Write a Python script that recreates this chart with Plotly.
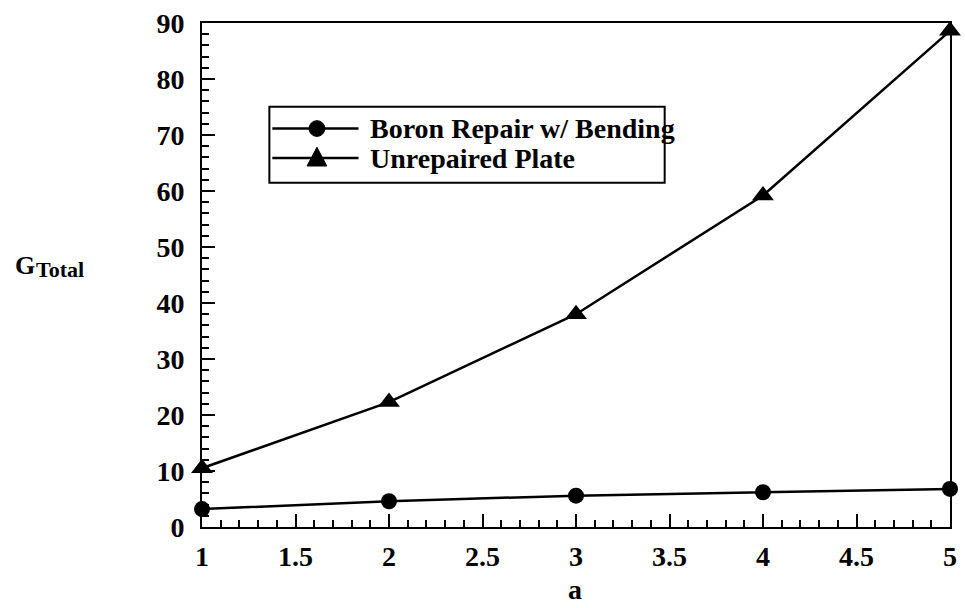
import plotly.graph_objects as go

# crack length a and total strain energy release rate
a_values = [1, 2, 3, 4, 5]
boron_repair = [3.2, 4.6, 5.6, 6.2, 6.8]
unrepaired = [10.5, 22.3, 38.0, 59.2, 88.6]

series_names = ["Boron Repair w/ Bending", "Unrepaired Plate"]
series_symbols = ["circle", "triangle-up"]

FONT = "Liberation Serif"
L, R, T, B = 202, 8, 16, 81
W, H = 965, 608
PW, PH = W - L - R, H - T - B


def px_x(px):
    return (px - L) / PW


def px_y(py):
    return (H - B - py) / PH


fig = go.Figure()
for name, ys, sym, size in zip(series_names, [boron_repair, unrepaired],
                               series_symbols, [16, 19]):
    fig.add_trace(go.Scatter(
        x=a_values, y=ys, mode="lines+markers", name=name,
        line=dict(color="black", width=2.5),
        marker=dict(symbol=sym, size=size, color="black"),
        cliponaxis=False, showlegend=False,
    ))

axis_common = dict(
    showgrid=False, zeroline=False, showline=True, linecolor="black",
    linewidth=2, mirror=True, ticks="inside", tickcolor="black",
    tickwidth=2, ticklen=13,
    tickfont=dict(family=FONT, size=28, color="black", weight="bold"),
)

fig.update_xaxes(
    range=[1, 5], tick0=1, dtick=0.5,
    minor=dict(ticks="inside", dtick=0.1, ticklen=7, tickwidth=2, tickcolor="black"),
    ticklabelstandoff=3,
    **axis_common,
)
fig.update_yaxes(
    range=[0, 90], tick0=0, dtick=10,
    minor=dict(ticks="inside", dtick=2, ticklen=7, tickwidth=2, tickcolor="black"),
    ticklabelstandoff=10,
    **axis_common,
)

# axis titles
fig.add_annotation(
    text="a", xref="paper", yref="paper", x=px_x(578), y=px_y(590),
    xanchor="center", yanchor="middle", showarrow=False,
    font=dict(family=FONT, size=28, color="black", weight="bold"),
)
fig.add_annotation(
    text="G", xref="paper", yref="paper", x=px_x(11), y=px_y(273),
    xanchor="left", yanchor="bottom", showarrow=False, yshift=-6,
    font=dict(family=FONT, size=26, color="black", weight="bold"),
)
fig.add_annotation(
    text="Total", xref="paper", yref="paper", x=px_x(32), y=px_y(276),
    xanchor="left", yanchor="bottom", showarrow=False, yshift=-5,
    font=dict(family=FONT, size=22, color="black", weight="bold"),
)

# legend: frame, sample lines with symbols, labels
fig.add_shape(type="rect", xref="paper", yref="paper",
              x0=px_x(270), x1=px_x(669), y0=px_y(178), y1=px_y(101),
              line=dict(color="black", width=2), fillcolor="white", layer="below")

row_y = [123, 153]
line_x0, line_x1, sym_x, text_x = 273, 360, 318, 370
for name, sym, ry in zip(series_names, series_symbols, row_y):
    fig.add_shape(type="line", xref="paper", yref="paper",
                  x0=px_x(line_x0), x1=px_x(line_x1), y0=px_y(ry), y1=px_y(ry),
                  line=dict(color="black", width=2.5))
    if sym == "circle":
        r = 8
        fig.add_shape(type="circle", xref="paper", yref="paper",
                      x0=px_x(sym_x - r), x1=px_x(sym_x + r),
                      y0=px_y(ry + r), y1=px_y(ry - r),
                      line=dict(color="black", width=1), fillcolor="black")
    else:
        hw, top, bot = 10, ry - 11, ry + 8
        path = (f"M {px_x(sym_x - hw)} {px_y(bot)} L {px_x(sym_x + hw)} {px_y(bot)} "
                f"L {px_x(sym_x)} {px_y(top)} Z")
        fig.add_shape(type="path", xref="paper", yref="paper", path=path,
                      line=dict(color="black", width=1), fillcolor="black")
    fig.add_annotation(
        text=name, xref="paper", yref="paper", x=px_x(text_x), y=px_y(ry),
        xanchor="left", yanchor="middle", showarrow=False,
        font=dict(family=FONT, size=28, color="black", weight="bold"),
    )

fig.update_layout(
    width=W, height=H,
    margin=dict(l=L, r=R, t=T, b=B),
    paper_bgcolor="white", plot_bgcolor="white",
    showlegend=False,
)

fig.write_html("out.html")
